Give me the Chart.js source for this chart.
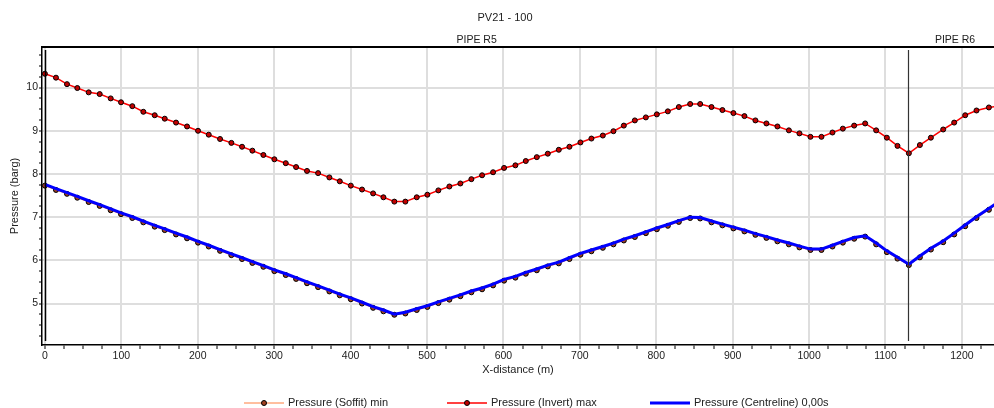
<!DOCTYPE html>
<html>
<head>
<meta charset="utf-8">
<title>PV21 - 100</title>
<script src="https://cdn.jsdelivr.net/npm/chart.js@4.4.1/dist/chart.umd.min.js"></script>
<style>
  html, body { margin: 0; padding: 0; background: #fff; }
</style>
</head>
<body>
<canvas id="profile" width="994" height="408"></canvas>
<script>
const chartTitle = "PV21 - 100";

// chainage of each calculation node along the line (m)
const distance = [
  0, 14.5, 28.9, 42.4, 57.3, 71.7, 86.1, 99.6, 114.4, 128.8,
  143.7, 156.8, 171.6, 186, 200.4, 214.4, 229.2, 244, 258, 271.5,
  285.9, 300.3, 315.2, 328.7, 343, 357.5, 372.3, 385.9, 400.3, 415,
  429.5, 443, 457.3, 471.7, 486.6, 500.5, 514.9, 529.3, 543.7, 558.1,
  572.1, 586.5, 600.9, 615.7, 629.3, 643.7, 658.1, 672.5, 686.4, 700.8,
  715.2, 730.1, 744, 757.6, 772, 786.4, 800.8, 815.2, 829.6, 844.4,
  857.5, 872.3, 886.6, 901, 915.4, 929.8, 944.2, 958.6, 973.6, 987.4,
  1001.8, 1016.2, 1030.6, 1044.2, 1059, 1073.4, 1087.8, 1101.8, 1115.7, 1130.6,
  1145, 1159.4, 1175.5, 1189.9, 1204.3, 1219.1, 1235.3, 1250
];

const soffitMin = [
  7.73, 7.63, 7.54, 7.45, 7.35, 7.26, 7.16, 7.07, 6.98, 6.88,
  6.78, 6.70, 6.60, 6.51, 6.41, 6.32, 6.22, 6.12, 6.03, 5.94,
  5.85, 5.75, 5.66, 5.57, 5.47, 5.38, 5.28, 5.19, 5.10, 5.00,
  4.90, 4.82, 4.74, 4.77, 4.85, 4.92, 5.01, 5.09, 5.17, 5.26,
  5.33, 5.42, 5.53, 5.60, 5.69, 5.77, 5.86, 5.93, 6.03, 6.13,
  6.21, 6.29, 6.37, 6.46, 6.54, 6.63, 6.72, 6.80, 6.89, 6.98,
  6.97, 6.88, 6.81, 6.74, 6.67, 6.59, 6.52, 6.44, 6.37, 6.30,
  6.24, 6.24, 6.32, 6.41, 6.50, 6.55, 6.37, 6.19, 6.04, 5.89,
  6.07, 6.25, 6.42, 6.60, 6.79, 6.98, 7.17, 7.35
];

const invertMax = [
  10.32, 10.23, 10.08, 9.99, 9.89, 9.85, 9.75, 9.66, 9.57, 9.44,
  9.36, 9.28, 9.19, 9.10, 9.00, 8.91, 8.81, 8.72, 8.63, 8.54,
  8.44, 8.34, 8.25, 8.16, 8.07, 8.02, 7.92, 7.83, 7.73, 7.64,
  7.55, 7.46, 7.36, 7.36, 7.46, 7.52, 7.62, 7.71, 7.78, 7.88,
  7.97, 8.04, 8.14, 8.20, 8.30, 8.39, 8.47, 8.56, 8.63, 8.73,
  8.82, 8.89, 8.99, 9.12, 9.24, 9.31, 9.38, 9.45, 9.55, 9.62,
  9.62, 9.55, 9.48, 9.41, 9.34, 9.24, 9.17, 9.10, 9.01, 8.94,
  8.86, 8.86, 8.96, 9.05, 9.12, 9.17, 9.01, 8.84, 8.65, 8.48,
  8.67, 8.84, 9.03, 9.19, 9.36, 9.47, 9.54, 9.58
];

const centreline = [
  7.76, 7.66, 7.57, 7.48, 7.38, 7.29, 7.19, 7.10, 7.01, 6.91,
  6.81, 6.73, 6.63, 6.54, 6.44, 6.35, 6.25, 6.15, 6.06, 5.97,
  5.88, 5.78, 5.69, 5.60, 5.50, 5.41, 5.31, 5.22, 5.13, 5.03,
  4.93, 4.85, 4.755, 4.80, 4.88, 4.95, 5.04, 5.12, 5.20, 5.29,
  5.36, 5.45, 5.56, 5.63, 5.72, 5.80, 5.89, 5.96, 6.06, 6.16,
  6.24, 6.32, 6.40, 6.49, 6.57, 6.66, 6.75, 6.83, 6.92, 7.00,
  6.99, 6.91, 6.84, 6.77, 6.70, 6.62, 6.55, 6.47, 6.40, 6.33,
  6.26, 6.26, 6.35, 6.44, 6.53, 6.57, 6.40, 6.22, 6.07, 5.91,
  6.10, 6.28, 6.45, 6.63, 6.82, 7.01, 7.20, 7.38
];

const pipes = [
  { name: "PIPE R5", start: 0, end: 1130 },
  { name: "PIPE R6", start: 1130, end: 1252 }
];

const FONT = "'Liberation Sans', Arial, sans-serif";

function toPoints(values) {
  return values.map((v, i) => ({ x: distance[i], y: v }));
}

function isWhole(v, step) {
  const r = v / step;
  return Math.abs(r - Math.round(r)) < 1e-6;
}

// title, pipe markers, top frame and the legend row
const profileDecor = {
  id: "profileDecor",
  afterDatasetsDraw(chart) {
    const { ctx, chartArea: area, scales } = chart;
    const xs = scales.x;
    ctx.save();
    ctx.strokeStyle = "#000";
    ctx.lineWidth = 2;
    ctx.beginPath();
    ctx.moveTo(area.left, area.top);
    ctx.lineTo(chart.width, area.top);
    ctx.stroke();

    pipes.forEach((p, i) => {
      const px = Math.round(xs.getPixelForValue(p.start)) + 0.5;
      ctx.strokeStyle = i === 0 ? "#000" : "#333";
      ctx.lineWidth = i === 0 ? 1.5 : 1.2;
      ctx.beginPath();
      ctx.moveTo(px, area.top + 3);
      ctx.lineTo(px, area.bottom - 4);
      ctx.stroke();

      ctx.fillStyle = "#222";
      ctx.font = "10.5px " + FONT;
      ctx.textAlign = "center";
      ctx.textBaseline = "middle";
      ctx.fillText(p.name, xs.getPixelForValue((p.start + p.end) / 2), area.top - 7);
    });
    ctx.restore();
  },
  afterDraw(chart) {
    const { ctx } = chart;
    ctx.save();
    ctx.fillStyle = "#222";
    ctx.font = "11px " + FONT;
    ctx.textAlign = "center";
    ctx.textBaseline = "middle";
    ctx.fillText(chartTitle, chart.width / 2 + 8, 18);

    const legendY = 403;
    chart.data.datasets.forEach((ds, i) => {
      const x0 = 244 + i * 203;
      ctx.strokeStyle = ds.borderColor;
      ctx.lineWidth = ds.borderWidth;
      ctx.beginPath();
      ctx.moveTo(x0, legendY);
      ctx.lineTo(x0 + 40, legendY);
      ctx.stroke();
      if (ds.pointRadius > 0) {
        ctx.beginPath();
        ctx.arc(x0 + 20, legendY, ds.pointRadius, 0, Math.PI * 2);
        ctx.fillStyle = ds.pointBackgroundColor;
        ctx.fill();
        ctx.lineWidth = 1;
        ctx.strokeStyle = ds.pointBorderColor;
        ctx.stroke();
      }
      ctx.fillStyle = "#222";
      ctx.font = "11px " + FONT;
      ctx.textAlign = "left";
      ctx.fillText(ds.label, x0 + 44, legendY);
    });
    ctx.restore();
  }
};

new Chart(document.getElementById("profile"), {
  type: "line",
  data: {
    datasets: [
      {
        label: "Pressure (Soffit) min",
        data: toPoints(soffitMin),
        borderColor: "#ff7f3f",
        borderWidth: 1,
        pointRadius: 2.5,
        pointBackgroundColor: "#a04020",
        pointBorderColor: "#000",
        pointBorderWidth: 1,
        order: 3
      },
      {
        label: "Pressure (Invert) max",
        data: toPoints(invertMax),
        borderColor: "#ff0000",
        borderWidth: 1.5,
        pointRadius: 2.5,
        pointBackgroundColor: "#c00000",
        pointBorderColor: "#000",
        pointBorderWidth: 1,
        order: 2
      },
      {
        label: "Pressure (Centreline) 0,00s",
        data: toPoints(centreline),
        borderColor: "#0000ff",
        borderWidth: 3,
        pointRadius: 0,
        order: 1
      }
    ]
  },
  options: {
    responsive: false,
    devicePixelRatio: 1,
    animation: false,
    layout: { autoPadding: false, padding: { top: 47, left: 0, right: 0, bottom: 0 } },
    plugins: {
      legend: { display: false },
      tooltip: { enabled: false },
      title: { display: false }
    },
    scales: {
      x: {
        type: "linear",
        min: -3.8,
        max: 1242,
        ticks: {
          stepSize: 25,
          autoSkip: false,
          includeBounds: false,
          maxRotation: 0,
          padding: 1,
          color: "#222",
          font: { family: FONT, size: 10.5 },
          callback: (v) => (isWhole(v, 100) ? String(Math.round(v)) : "")
        },
        grid: {
          color: (c) => (c.tick && isWhole(c.tick.value, 100) ? "#dedede" : "rgba(0,0,0,0)"),
          lineWidth: 2,
          tickColor: "#000",
          tickLength: 4,
          tickWidth: 1
        },
        border: { color: "#000", width: 1.5 },
        title: {
          display: true,
          text: "X-distance (m)",
          color: "#222",
          font: { family: FONT, size: 11 },
          padding: { top: 0, bottom: 31 }
        },
        afterFit: (s) => {
          s.height = 63;
          s.paddingLeft = 0;
          s.paddingRight = 0;
        }
      },
      y: {
        type: "linear",
        min: 4.04,
        max: 10.94,
        ticks: {
          stepSize: 0.25,
          autoSkip: false,
          includeBounds: false,
          padding: 1,
          color: "#222",
          font: { family: FONT, size: 10.5 },
          callback: (v) => (isWhole(v, 1) ? String(Math.round(v)) : "")
        },
        grid: {
          color: (c) => (c.tick && isWhole(c.tick.value, 1) ? "#dedede" : "rgba(0,0,0,0)"),
          lineWidth: 2,
          tickColor: "#000",
          tickLength: 3,
          tickWidth: 1
        },
        border: { color: "#000", width: 1.5 },
        title: {
          display: true,
          text: "Pressure (barg)",
          color: "#222",
          font: { family: FONT, size: 11 },
          padding: { top: 8, bottom: 0 }
        },
        afterFit: (s) => {
          s.width = 42;
          s.paddingTop = 0;
          s.paddingBottom = 0;
        }
      }
    }
  },
  plugins: [profileDecor]
});
</script>
</body>
</html>
